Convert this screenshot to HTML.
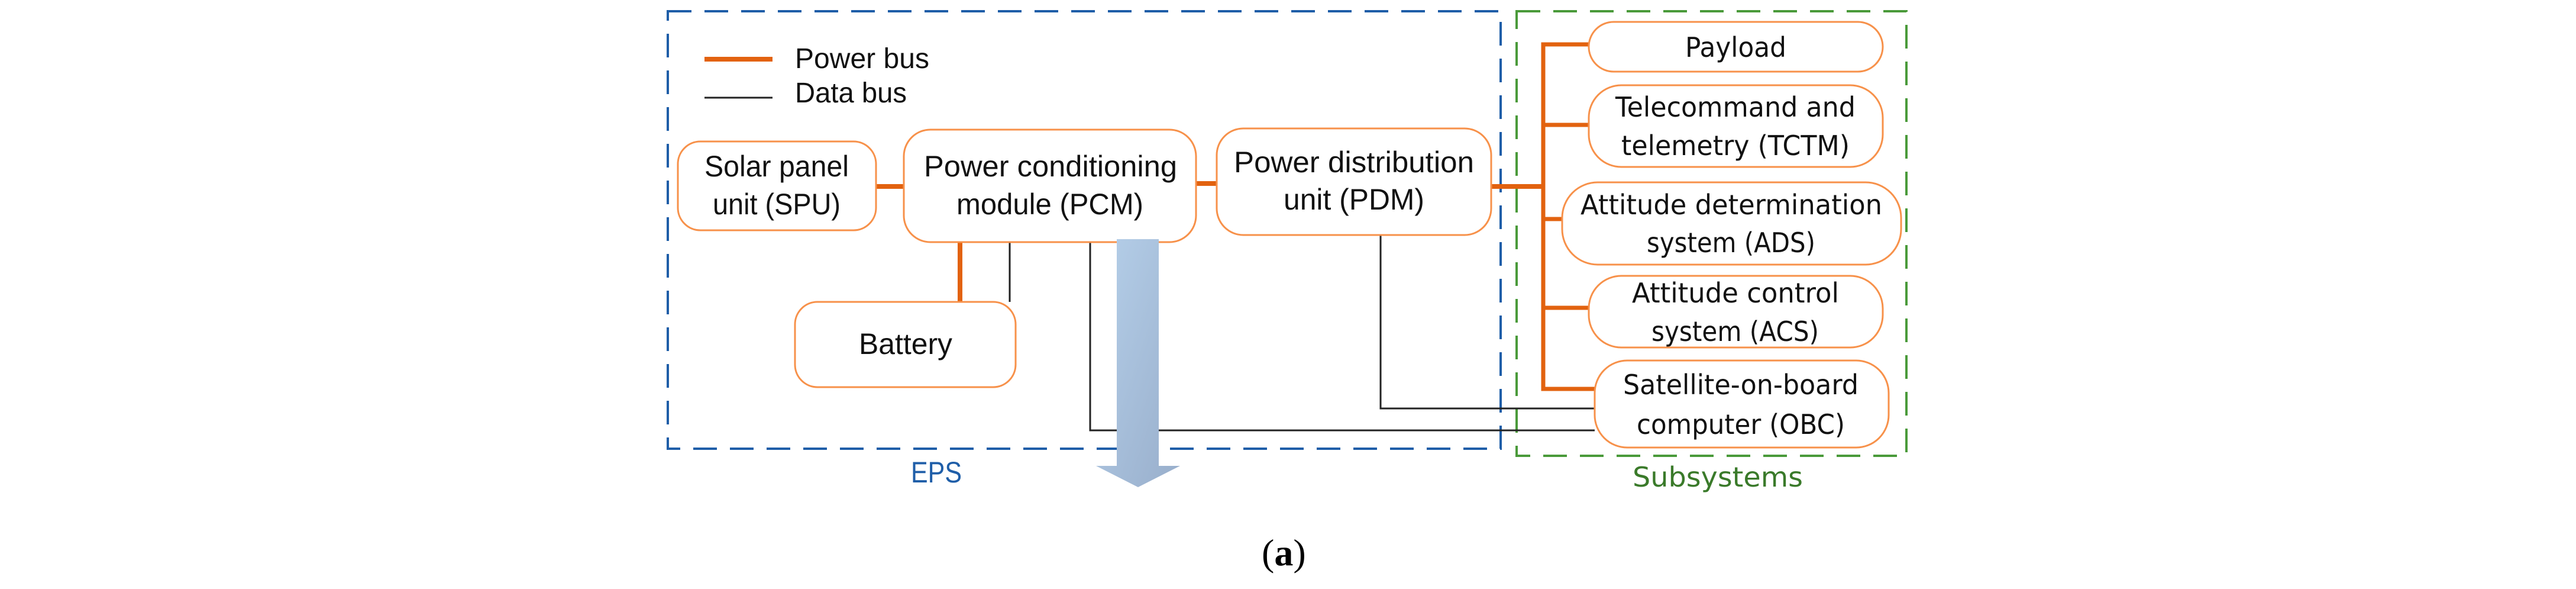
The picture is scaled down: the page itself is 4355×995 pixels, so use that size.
<!DOCTYPE html>
<html><head><meta charset="utf-8"><style>html,body{margin:0;padding:0;background:#fff}svg{display:block}</style></head>
<body>
<svg width="4355" height="995" viewBox="0 0 4355 995" xmlns="http://www.w3.org/2000/svg">
<defs>
<linearGradient id="ag" x1="0" y1="0" x2="1" y2="1">
<stop offset="0" stop-color="#b6d0ea"/><stop offset="1" stop-color="#98aecb"/>
</linearGradient>
</defs>
<rect width="4355" height="995" fill="#fff"/>
<!-- dashed groups -->
<rect x="1129" y="19" width="1408" height="739" fill="none" stroke="#1f5ea8" stroke-width="4" stroke-dasharray="40 22"/>
<rect x="2564" y="19" width="659" height="751" fill="none" stroke="#4a9a3a" stroke-width="4" stroke-dasharray="40 22"/>
<!-- legend -->
<line x1="1191" y1="100" x2="1306" y2="100" stroke="#e2620f" stroke-width="8"/>
<line x1="1191" y1="165" x2="1306" y2="165" stroke="#222" stroke-width="3"/>
<g font-family="Liberation Sans, sans-serif" font-size="48" fill="#111">
<text x="1344" y="115" textLength="227" lengthAdjust="spacingAndGlyphs">Power bus</text>
<text x="1344" y="173" textLength="189" lengthAdjust="spacingAndGlyphs">Data bus</text>
</g>
<!-- power lines -->
<g stroke="#e2620f" stroke-width="8" fill="none">
<line x1="1481" y1="315" x2="1528" y2="315"/>
<line x1="2022" y1="310" x2="2057" y2="310"/>
<line x1="2521" y1="315" x2="2609" y2="315"/>
<line x1="1623" y1="409" x2="1623" y2="510"/>
<polyline points="2686,75 2609,75 2609,657 2696,657" stroke-width="7"/>
<line x1="2609" y1="211" x2="2686" y2="211" stroke-width="7"/>
<line x1="2609" y1="370" x2="2641" y2="370" stroke-width="7"/>
<line x1="2609" y1="520" x2="2686" y2="520" stroke-width="7"/>
</g>
<!-- data lines -->
<g stroke="#222" stroke-width="3" fill="none">
<line x1="1707" y1="409" x2="1707" y2="510"/>
<polyline points="1843,409 1843,727 2696,727"/>
<polyline points="2334,397 2334,690 2696,690"/>
</g>
<!-- boxes -->
<g fill="#fff" stroke="#f7914a" stroke-width="3">
<rect x="1146" y="239" width="335" height="150" rx="38"/>
<rect x="1528" y="219" width="494" height="190" rx="45"/>
<rect x="2057" y="217" width="464" height="180" rx="45"/>
<rect x="1344" y="510" width="373" height="144" rx="38"/>
<rect x="2686" y="37" width="497" height="84" rx="42"/>
<rect x="2686" y="144" width="497" height="138" rx="55"/>
<rect x="2641" y="308" width="573" height="139" rx="60"/>
<rect x="2686" y="466" width="497" height="121" rx="55"/>
<rect x="2696" y="609" width="497" height="147" rx="55"/>
</g>
<!-- arrow -->
<path d="M1888,404 L1959,404 L1959,787 L1995,787 L1924,823 L1853,787 L1888,787 Z" fill="url(#ag)"/>
<!-- left texts -->
<g font-family="Liberation Sans, sans-serif" font-size="50" fill="#111">
<text x="1191" y="298" textLength="244" lengthAdjust="spacingAndGlyphs">Solar panel</text>
<text x="1205" y="362" textLength="216" lengthAdjust="spacingAndGlyphs">unit (SPU)</text>
<text x="1562" y="298" textLength="428" lengthAdjust="spacingAndGlyphs">Power conditioning</text>
<text x="1617" y="362" textLength="316" lengthAdjust="spacingAndGlyphs">module (PCM)</text>
<text x="2086" y="291" textLength="406" lengthAdjust="spacingAndGlyphs">Power distribution</text>
<text x="2170" y="354" textLength="238" lengthAdjust="spacingAndGlyphs">unit (PDM)</text>
<text x="1452" y="598" textLength="158" lengthAdjust="spacingAndGlyphs">Battery</text>
<text x="1540" y="815" textLength="86" lengthAdjust="spacingAndGlyphs" fill="#1f5ea8">EPS</text>
</g>
<!-- right texts -->
<g font-family="DejaVu Sans, sans-serif" font-size="46" fill="#111">
<text x="2849" y="96" textLength="171" lengthAdjust="spacingAndGlyphs">Payload</text>
<text x="2731" y="197" textLength="406" lengthAdjust="spacingAndGlyphs">Telecommand and</text>
<text x="2741" y="262" textLength="386" lengthAdjust="spacingAndGlyphs">telemetry (TCTM)</text>
<text x="2672" y="362" textLength="510" lengthAdjust="spacingAndGlyphs">Attitude determination</text>
<text x="2784" y="426" textLength="285" lengthAdjust="spacingAndGlyphs">system (ADS)</text>
<text x="2759" y="511" textLength="350" lengthAdjust="spacingAndGlyphs">Attitude control</text>
<text x="2792" y="576" textLength="283" lengthAdjust="spacingAndGlyphs">system (ACS)</text>
<text x="2744" y="666" textLength="398" lengthAdjust="spacingAndGlyphs">Satellite-on-board</text>
<text x="2767" y="733" textLength="352" lengthAdjust="spacingAndGlyphs">computer (OBC)</text>
<text x="2760" y="822" textLength="288" lengthAdjust="spacingAndGlyphs" fill="#3a7a2a">Subsystems</text>
</g>
<text x="2133" y="955" font-family="Liberation Serif, serif" font-size="64" fill="#000">(<tspan font-weight="bold">a</tspan>)</text>
</svg>
</body></html>
